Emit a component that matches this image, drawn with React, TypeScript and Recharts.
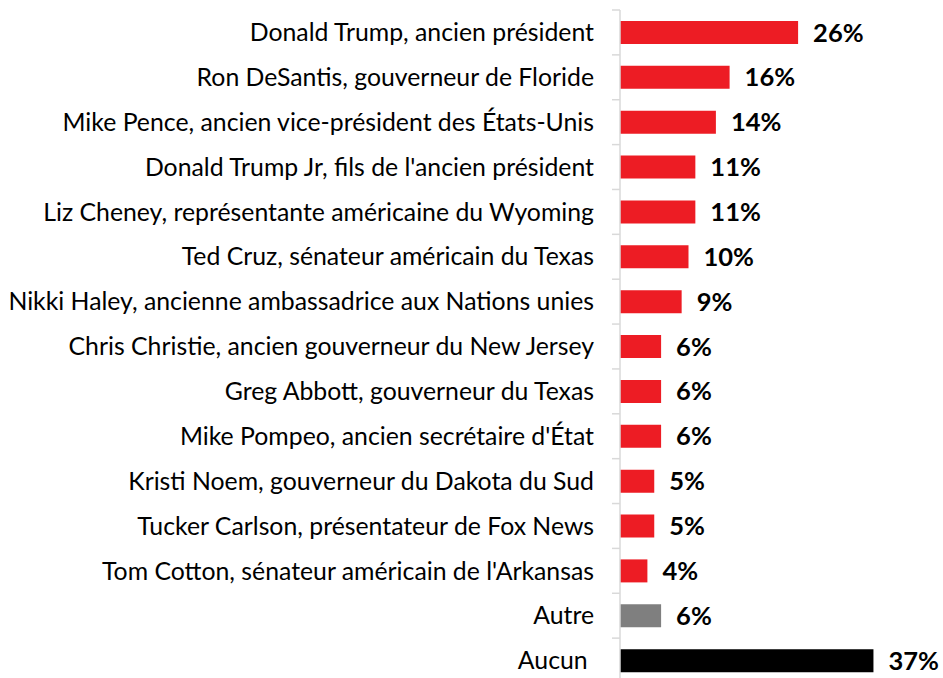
import React from "react";
import { BarChart, Bar, XAxis, YAxis, Cell, LabelList } from "recharts";

const categories = [
  "Donald Trump, ancien président",
  "Ron DeSantis, gouverneur de Floride",
  "Mike Pence, ancien vice-président des États-Unis",
  "Donald Trump Jr, fils de l'ancien président",
  "Liz Cheney, représentante américaine du Wyoming",
  "Ted Cruz, sénateur américain du Texas",
  "Nikki Haley, ancienne ambassadrice aux Nations unies",
  "Chris Christie, ancien gouverneur du New Jersey",
  "Greg Abbott, gouverneur du Texas",
  "Mike Pompeo, ancien secrétaire d'État",
  "Kristi Noem, gouverneur du Dakota du Sud",
  "Tucker Carlson, présentateur de Fox News",
  "Tom Cotton, sénateur américain de l'Arkansas",
  "Autre",
  "Aucun\u00A0",
];
const values = [26, 16, 14, 11, 11, 10, 9, 6, 6, 6, 5, 5, 4, 6, 37];
const colors = [
  "#ED1C24", "#ED1C24", "#ED1C24", "#ED1C24", "#ED1C24", "#ED1C24", "#ED1C24",
  "#ED1C24", "#ED1C24", "#ED1C24", "#ED1C24", "#ED1C24", "#ED1C24",
  "#7F7F7F", "#000000",
];

const data = categories.map((name, i) => ({ name, value: values[i], color: colors[i] }));

const CHART_W = 960;
const CHART_H = 678;
const MARGIN = { top: 2, right: 74, bottom: 3, left: 0 };
const Y_W = 612;
const FONT = "Lato, 'Open Sans', sans-serif";

const PLOT_H = CHART_H - MARGIN.top - MARGIN.bottom;
const BAND = PLOT_H / categories.length;

const CatTick = (props: any) => {
  const { y, payload, index } = props;
  const axisX = Y_W;
  return (
    <g>
      <line x1={axisX - 8} x2={axisX} y1={y - BAND / 2} y2={y - BAND / 2} stroke="#D9D9D9" strokeWidth={1.5} />
      {index === categories.length - 1 && (
        <line x1={axisX - 8} x2={axisX} y1={y + BAND / 2} y2={y + BAND / 2} stroke="#D9D9D9" strokeWidth={1.5} />
      )}
      <text
        x={axisX - 26}
        y={y}
        dy="0.35em"
        textAnchor="end"
        fill="#000"
        fontSize={24.8}
        fontFamily={FONT}
      >
        {payload.value}
      </text>
    </g>
  );
};

export default function App() {
  return (
    <div style={{ width: 935, height: 670, padding: "8px 0 0 8px", overflow: "hidden" }}>
      <style>{"html,body{margin:0;overflow:hidden}"}</style>
      <BarChart
        width={CHART_W}
        height={CHART_H}
        data={data}
        layout="vertical"
        margin={MARGIN}
      >
        <XAxis type="number" domain={[0, 40]} hide />
        <YAxis
          type="category"
          dataKey="name"
          width={Y_W}
          axisLine={{ stroke: "#D9D9D9", strokeWidth: 1.5 }}
          tickLine={false}
          tick={<CatTick />}
          interval={0}
        />
        <Bar dataKey="value" barSize={23} isAnimationActive={false}>
          {data.map((d, i) => (
            <Cell key={i} fill={d.color} />
          ))}
          <LabelList
            dataKey="value"
            position="right"
            offset={15}
            formatter={(v: any) => `${v}%`}
            style={{ fontFamily: FONT, fontWeight: 700, fontSize: 25.5, fill: "#000" }}
          />
        </Bar>
      </BarChart>
    </div>
  );
}
